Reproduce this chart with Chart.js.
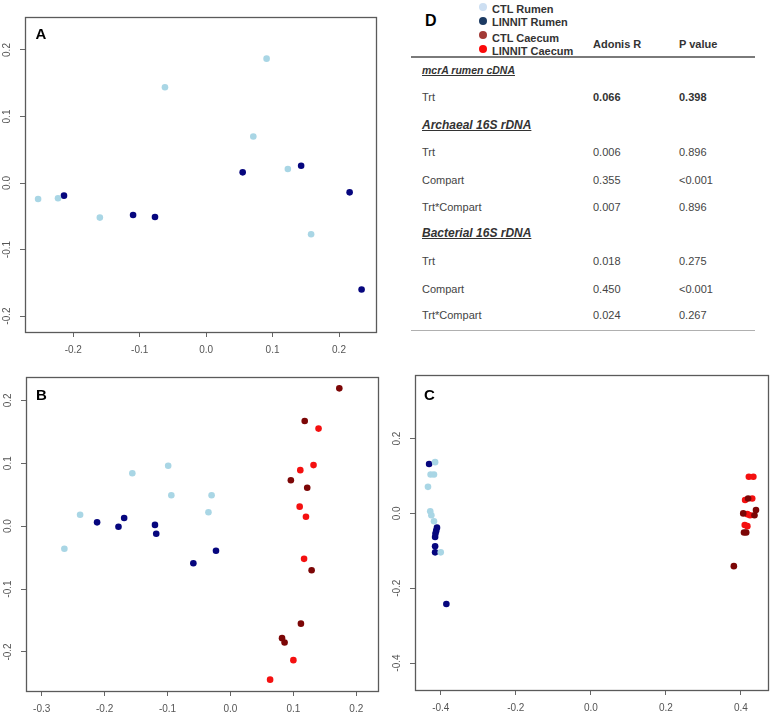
<!DOCTYPE html>
<html><head><meta charset="utf-8">
<script src="https://cdn.jsdelivr.net/npm/chart.js@4.4.1/dist/chart.umd.min.js"></script>
<style>
html,body{margin:0;padding:0;background:#fff;width:773px;height:717px;overflow:hidden;font-family:"Liberation Sans",Arial,sans-serif;}
canvas{position:absolute;}
.t{position:absolute;white-space:nowrap;font-size:11px;line-height:14px;height:14px;color:#444;}
.dot{position:absolute;width:8px;height:8px;border-radius:50%;}
.rule{position:absolute;}
</style></head><body>
<canvas id="cA" width="390" height="360" style="left:0;top:0"></canvas>
<canvas id="cB" width="390" height="357" style="left:0;top:360px"></canvas>
<canvas id="cC" width="383" height="357" style="left:390px;top:360px"></canvas>
<div id="tableD"></div>
<script>
// ---------- DATA ----------
const groupNames = ['CTL Rumen', 'LINNIT Rumen', 'CTL Caecum', 'LINNIT Caecum'];

// Panel A (mcrA rumen cDNA)
const aCtlRumen = [[-0.253,-0.024],[-0.223,-0.023],[-0.160,-0.052],[-0.062,0.144],[0.071,0.070],[0.091,0.187],[0.123,0.021],[0.158,-0.077]];
const aLinnitRumen = [[-0.214,-0.019],[-0.110,-0.048],[-0.077,-0.051],[0.055,0.016],[0.143,0.026],[0.216,-0.014],[0.234,-0.160]];
const aXTicks = [-0.2,-0.1,0,0.1,0.2];
const aYTicks = [-0.2,-0.1,0,0.1,0.2];

// Panel B (Archaeal 16S rDNA)
const bCtlRumen = [[-0.264,-0.036],[-0.239,0.018],[-0.156,0.084],[-0.099,0.096],[-0.094,0.049],[-0.035,0.022],[-0.030,0.049]];
const bLinnitRumen = [[-0.212,0.006],[-0.178,-0.001],[-0.169,0.013],[-0.120,0.002],[-0.118,-0.012],[-0.059,-0.059],[-0.023,-0.039]];
const bCtlCaecum = [[0.173,0.219],[0.118,0.167],[0.096,0.073],[0.122,0.061],[0.129,-0.070],[0.112,-0.155],[0.082,-0.178],[0.086,-0.185]];
const bLinnitCaecum = [[0.140,0.155],[0.132,0.097],[0.111,0.089],[0.110,0.031],[0.120,0.015],[0.117,-0.052],[0.100,-0.213],[0.063,-0.244]];
const bXTicks = [-0.3,-0.2,-0.1,0,0.1,0.2];
const bYTicks = [-0.2,-0.1,0,0.1,0.2];

// Panel C (Bacterial 16S rDNA)
const cCtlRumen = [[-0.415,0.137],[-0.427,0.104],[-0.418,0.104],[-0.434,0.071],[-0.428,0.006],[-0.425,-0.005],[-0.418,-0.021],[-0.400,-0.104]];
const cLinnitRumen = [[-0.431,0.132],[-0.410,-0.038],[-0.412,-0.046],[-0.414,-0.054],[-0.415,-0.063],[-0.415,-0.088],[-0.415,-0.104],[-0.385,-0.242]];
const cCtlCaecum = [[0.419,0.040],[0.406,0.000],[0.436,-0.005],[0.440,0.009],[0.408,-0.051],[0.414,-0.051],[0.381,-0.141]];
const cLinnitCaecum = [[0.421,0.098],[0.433,0.098],[0.411,0.036],[0.430,0.040],[0.417,-0.002],[0.424,-0.005],[0.410,-0.031],[0.417,-0.034]];
const cXTicks = [-0.4,-0.2,0,0.2,0.4];
const cYTicks = [-0.4,-0.2,0,0.2];

// Table D
const tableSections = ['mcrA rumen cDNA', 'Archaeal 16S rDNA', 'Bacterial 16S rDNA'];
const rowTerms = ['Trt', 'Trt', 'Compart', 'Trt*Compart', 'Trt', 'Compart', 'Trt*Compart'];
const adonisR = ['0.066', '0.006', '0.355', '0.007', '0.018', '0.450', '0.024'];
const pValues = ['0.398', '0.896', '<0.001', '0.896', '0.275', '<0.001', '0.267'];
const tableHeaders = ['Adonis R', 'P value'];

// ---------- STYLE ----------
const pointColors = ['#a9d6e5', '#06067e', '#7c0606', '#f41010'];
const legendColors = ['#cddff2', '#1c3a62', '#a23a36', '#fb0a0a'];
const FONT = '"Liberation Sans", Arial, sans-serif';
const fmt = v => (Math.abs(v) < 1e-9 ? 0 : v).toFixed(1);

const panelPlugin = {
  id: 'panelPlugin',
  afterDraw(chart) {
    const o = chart.options.plugins.panelPlugin;
    const {ctx, chartArea: a} = chart;
    ctx.save();
    ctx.strokeStyle = '#5a5a5a';
    ctx.lineWidth = 1.3;
    ctx.strokeRect(a.left + 0.5, a.top + 0.5, a.right - a.left, a.bottom - a.top);
    // rotated y tick labels
    const ys = chart.scales.y;
    ctx.fillStyle = '#555';
    ctx.font = '10px ' + FONT;
    ctx.textAlign = 'center';
    ctx.textBaseline = 'middle';
    ys.ticks.forEach(t => {
      const py = ys.getPixelForValue(t.value);
      ctx.save();
      ctx.translate(a.left - 18, py);
      ctx.rotate(-Math.PI / 2);
      ctx.fillText(fmt(t.value), 0, 0);
      ctx.restore();
    });
    // panel letter
    ctx.fillStyle = '#000';
    ctx.font = 'bold 15px ' + FONT;
    ctx.textAlign = 'left';
    ctx.textBaseline = 'alphabetic';
    ctx.fillText(o.letter, a.left + o.lx, a.top + o.ly);
    ctx.restore();
  }
};

function makePanel(id, letter, series, xr, yr, xt, yt, g) {
  new Chart(document.getElementById(id), {
    type: 'scatter',
    data: {
      datasets: series.map(s => ({
        label: groupNames[s.g],
        data: s.pts.map(p => ({x: p[0], y: p[1]})),
        backgroundColor: pointColors[s.g],
        borderWidth: 0,
        pointRadius: 3.3,
        pointHoverRadius: 3.3
      }))
    },
    options: {
      responsive: false,
      animation: false,
      events: [],
      layout: {padding: {left: 0, top: g.top, right: g.right, bottom: 0}},
      plugins: {
        legend: {display: false},
        tooltip: {enabled: false},
        panelPlugin: {letter: letter, lx: g.lx, ly: g.ly}
      },
      scales: {
        x: {
          type: 'linear', min: xr[0], max: xr[1],
          afterBuildTicks: s => { s.ticks = xt.map(v => ({value: v})); },
          afterFit: s => { s.height = g.xh; s.paddingLeft = 0; s.paddingRight = 0; },
          grid: {drawOnChartArea: false, drawTicks: true, tickLength: 5, color: '#666', lineWidth: 1},
          border: {display: false},
          ticks: {font: {size: 10, family: FONT}, color: '#555', padding: 7, maxRotation: 0, autoSkip: false,
                  callback: v => fmt(v)}
        },
        y: {
          type: 'linear', min: yr[0], max: yr[1],
          afterBuildTicks: s => { s.ticks = yt.map(v => ({value: v})); },
          afterFit: s => { s.width = g.yw; s.paddingTop = 0; s.paddingBottom = 0; },
          grid: {drawOnChartArea: false, drawTicks: true, tickLength: 5, color: '#666', lineWidth: 1},
          border: {display: false},
          ticks: {display: false}
        }
      }
    },
    plugins: [panelPlugin]
  });
}

makePanel('cA', 'A',
  [{g: 0, pts: aCtlRumen}, {g: 1, pts: aLinnitRumen}],
  [-0.2727, 0.2557], [-0.224, 0.2496], aXTicks, aYTicks,
  {top: 17, right: 14, xh: 28, yw: 25, lx: 10.5, ly: 22});

makePanel('cB', 'B',
  [{g: 0, pts: bCtlRumen}, {g: 1, pts: bLinnitRumen}, {g: 2, pts: bCtlCaecum}, {g: 3, pts: bLinnitCaecum}],
  [-0.325, 0.2345], [-0.262, 0.237], bXTicks, bYTicks,
  {top: 17, right: 12, xh: 26, yw: 26, lx: 10, ly: 23});

makePanel('cC', 'C',
  [{g: 0, pts: cCtlRumen}, {g: 1, pts: cLinnitRumen}, {g: 2, pts: cCtlCaecum}, {g: 3, pts: cLinnitCaecum}],
  [-0.4686, 0.472], [-0.472, 0.37], cXTicks, cYTicks,
  {top: 15, right: 5, xh: 27, yw: 25, lx: 9, ly: 25});

// ---------- TABLE D ----------
const D = document.getElementById('tableD');
function txt(s, x, cy, css) {
  const d = document.createElement('div');
  d.className = 't';
  d.textContent = s;
  d.style.left = x + 'px';
  d.style.top = (cy - 7) + 'px';
  if (css) Object.assign(d.style, css);
  D.appendChild(d);
}
// letter
txt('D', 425, 21, {fontSize: '16px', fontWeight: 'bold', color: '#000', lineHeight: '18px', height: '18px', top: '12px'});
// legend
const legY = [7, 21, 35, 48.5];
const legTY = [9, 21.7, 37.7, 50.7];
groupNames.forEach((n, i) => {
  const c = document.createElement('div');
  c.className = 'dot';
  c.style.background = legendColors[i];
  c.style.left = (483 - 4) + 'px';
  c.style.top = (legY[i] - 4) + 'px';
  D.appendChild(c);
  txt(n, 492, legTY[i], {fontWeight: 'bold', color: '#333'});
});
// headers
txt(tableHeaders[0], 593, 44.3, {fontWeight: 'bold', color: '#333'});
txt(tableHeaders[1], 679, 44.3, {fontWeight: 'bold', color: '#333'});
// rules
const r1 = document.createElement('div'); r1.className = 'rule';
Object.assign(r1.style, {left: '411px', top: '56px', width: '344px', height: '2px', background: '#7a7a7a'});
D.appendChild(r1);
const r2 = document.createElement('div'); r2.className = 'rule';
Object.assign(r2.style, {left: '411px', top: '329.5px', width: '344px', height: '1.5px', background: '#b0b0b0'});
D.appendChild(r2);
// sections & rows
const secY = [70, 125, 233.3];
const secSize = ['10.5px', '12px', '12px'];
tableSections.forEach((s, i) => {
  txt(s, 422, secY[i], {fontWeight: 'bold', fontStyle: 'italic', textDecoration: 'underline', color: '#333', fontSize: secSize[i]});
});
const rowY = [96.7, 152, 179.7, 207.3, 261, 288.7, 315];
rowTerms.forEach((t, i) => {
  const bold = i === 0 ? {fontWeight: 'bold', color: '#333'} : null;
  txt(t, 422, rowY[i]);
  txt(adonisR[i], 593, rowY[i], bold);
  txt(pValues[i], 679, rowY[i], bold);
});
</script>
</body></html>
